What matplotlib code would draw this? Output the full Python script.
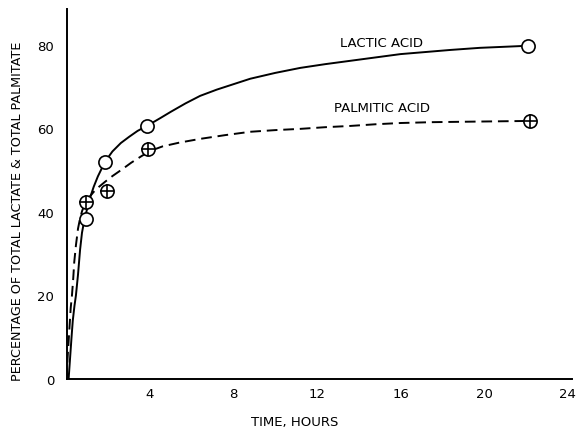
import matplotlib
matplotlib.use("Agg")
import matplotlib.pyplot as plt

# measured points
lactic_t = [0.93, 1.84, 3.85, 22.1]
lactic_pct = [38.3, 52.0, 60.6, 79.8]
palm_t = [0.93, 1.94, 3.9, 22.2]
palm_pct = [42.4, 45.0, 55.0, 61.8]

# hand-drawn fitted curves
lactic_curve_t = [0.1, 0.17, 0.24, 0.3, 0.38, 0.45, 0.55, 0.65, 0.74, 0.85, 0.95, 1.1,
                  1.3, 1.5, 1.84, 2.2, 2.6, 3.0, 3.4, 3.85, 4.5, 5.0, 5.7, 6.4, 7.2,
                  8.0, 8.8, 10.0, 11.2, 12.4, 13.6, 14.8, 16.0, 17.2, 18.4, 19.8,
                  21.2, 22.1]
lactic_curve_pct = [0.0, 5.0, 10.0, 14.0, 17.5, 20.0, 25.0, 31.0, 35.0, 38.0, 40.0, 43.0,
                    46.0, 48.5, 52.0, 54.5, 56.5, 58.0, 59.4, 60.6, 62.5, 64.0, 66.0,
                    67.8, 69.3, 70.6, 71.9, 73.3, 74.5, 75.4, 76.2, 77.0, 77.8, 78.3,
                    78.8, 79.3, 79.6, 79.8]
palm_curve_t = [0.0, 0.05, 0.1, 0.15, 0.2, 0.26, 0.32, 0.37, 0.45, 0.55, 0.65, 0.75,
                0.93, 1.1, 1.3, 1.55, 1.84, 2.2, 2.66, 3.1, 3.6, 4.0, 4.6, 5.4, 6.4,
                7.6, 8.8, 10.0, 11.2, 12.4, 13.6, 14.8, 16.0, 17.5, 19.0, 20.6, 22.2]
palm_curve_pct = [0.0, 5.0, 9.0, 13.0, 17.0, 20.0, 24.0, 28.0, 32.0, 36.0, 38.5, 40.3,
                  42.4, 43.6, 44.8, 46.0, 47.2, 48.6, 50.2, 51.8, 53.4, 54.6, 55.7,
                  56.6, 57.5, 58.4, 59.2, 59.6, 59.9, 60.3, 60.6, 61.0, 61.3, 61.5,
                  61.6, 61.7, 61.8]

fig = plt.figure(figsize=(5.8, 4.31), dpi=100)
ax = fig.add_axes([0.1147, 0.1183, 0.871, 0.8585])

ax.plot(lactic_curve_t, lactic_curve_pct, color="black", lw=1.4)
ax.plot(palm_curve_t, palm_curve_pct, color="black", lw=1.4, linestyle=(0, (5.5, 3)))

ax.plot(lactic_t, lactic_pct, linestyle="none", marker="o", markersize=9.5,
        markerfacecolor="white", markeredgecolor="black", markeredgewidth=1.2)
ax.plot(palm_t, palm_pct, linestyle="none", marker="o", markersize=9.5,
        markerfacecolor="white", markeredgecolor="black", markeredgewidth=1.2)
ax.plot(palm_t, palm_pct, linestyle="none", marker="+", markersize=9.5,
        markeredgecolor="black", markeredgewidth=1.2)

ax.text(15.1, 80.5, "LACTIC ACID", ha="center", va="center", fontsize=9.5)
ax.text(15.1, 65.1, "PALMITIC ACID", ha="center", va="center", fontsize=9.5)

ax.set_xlim(0, 24.2)
ax.set_ylim(0, 88.6)
ax.set_xticks([4, 8, 12, 16, 20, 24])
ax.set_yticks([0, 20, 40, 60, 80])
ax.tick_params(length=0, labelsize=9.5, pad=9)
ax.tick_params(axis="x", pad=6)
for s in ["top", "right"]:
    ax.spines[s].set_visible(False)
for s in ["left", "bottom"]:
    ax.spines[s].set_linewidth(1.4)

ax.set_xlabel("TIME, HOURS", fontsize=9.5, va="center")
ax.set_ylabel("PERCENTAGE OF TOTAL LACTATE & TOTAL PALMITATE", fontsize=9.2)
ax.xaxis.set_label_coords(0.452, -0.1135)
ax.yaxis.set_label_coords(-0.084, 0.457)

plt.savefig("out.png", dpi=100)
